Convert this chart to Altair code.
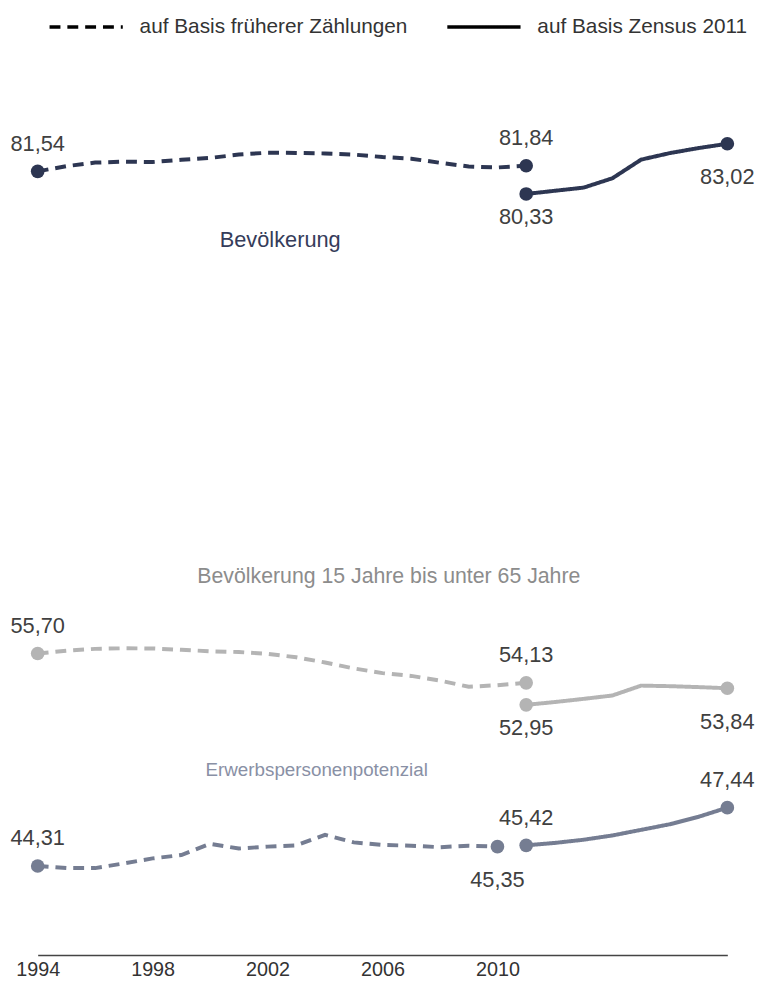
import altair as alt
import pandas as pd

FONT = "Liberation Sans"

series_names = ["Bevölkerung", "Bevölkerung 15 Jahre bis unter 65 Jahre", "Erwerbspersonenpotenzial"]
series_colors = ["#2d3652", "#b4b4b4", "#757d92"]
title_colors = ["#353c5a", "#8c8c8c", "#8990a5"]
basis_names = ["auf Basis früherer Zählungen", "auf Basis Zensus 2011"]

years_old = list(range(1994, 2012))
bev_old = [81.54, 81.82, 82.01, 82.06, 82.04, 82.16, 82.26, 82.44, 82.54, 82.53,
           82.50, 82.44, 82.31, 82.22, 82.00, 81.80, 81.75, 81.84]
wa_old = [55.70, 55.85, 55.95, 55.98, 55.97, 55.90, 55.82, 55.78, 55.68, 55.50,
          55.22, 54.90, 54.65, 54.50, 54.25, 53.92, 54.00, 54.13]
years_epp_old = list(range(1994, 2011))
epp_old = [44.31, 44.20, 44.20, 44.45, 44.72, 44.90, 45.50, 45.25, 45.35, 45.42,
           45.98, 45.58, 45.44, 45.40, 45.32, 45.40, 45.35]
years_new = list(range(2011, 2019))
bev_new = [80.33, 80.50, 80.67, 81.17, 82.17, 82.52, 82.79, 83.02]
wa_new = [52.95, 53.10, 53.27, 53.45, 53.98, 53.95, 53.90, 53.84]
epp_new = [45.42, 45.55, 45.72, 45.95, 46.25, 46.55, 46.95, 47.44]

tick_years = [1994, 1998, 2002, 2006, 2010]

# labelled points: (series index, basis index, year, placement)
label_points = [
    (0, 0, 1994, "above"), (0, 0, 2011, "above"), (0, 1, 2011, "below"), (0, 1, 2018, "below2"),
    (1, 0, 1994, "above"), (1, 0, 2011, "above"), (1, 1, 2011, "below"), (1, 1, 2018, "below2"),
    (2, 0, 1994, "above"), (2, 0, 2010, "below2"), (2, 1, 2011, "above"), (2, 1, 2018, "above"),
]

# series title annotations (year, value)
title_anchor_year = [2002.44, 2006.22, 2003.71]
title_anchor_value = [77.88, 59.79, 49.45]
title_sizes = [22, 21.5, 19]

rows = []
for si, (yrs_o, vals_o, yrs_n, vals_n) in enumerate([
    (years_old, bev_old, years_new, bev_new),
    (years_old, wa_old, years_new, wa_new),
    (years_epp_old, epp_old, years_new, epp_new),
]):
    for yv, v in zip(yrs_o, vals_o):
        rows.append({"year": yv, "value": v, "series": series_names[si], "basis": basis_names[0]})
    for yv, v in zip(yrs_n, vals_n):
        rows.append({"year": yv, "value": v, "series": series_names[si], "basis": basis_names[1]})
df = pd.DataFrame(rows)

lab_rows = []
for si, bi, yr, place in label_points:
    sub = df[(df.series == series_names[si]) & (df.basis == basis_names[bi]) & (df.year == yr)]
    v = float(sub.value.iloc[0])
    lab_rows.append({"year": yr, "value": v, "series": series_names[si],
                     "text": f"{v:.2f}".replace(".", ","), "place": place})
labels = pd.DataFrame(lab_rows)

titles = pd.DataFrame({"year": title_anchor_year, "value": title_anchor_value,
                       "text": series_names, "tcolor": title_colors, "fsize": title_sizes})

# plot area: top at page y 48, axis line at page y 960
x = alt.X("year:Q",
          scale=alt.Scale(domain=[1994, 2018], nice=False, zero=False),
          axis=alt.Axis(values=tick_years, format="d", title=None, grid=False, ticks=False,
                        labelFontSize=20, labelFont=FONT, labelColor="#333333", labelPadding=5,
                        labelFlush=False, labelOverlap=False,
                        domainColor="#444444", domainWidth=1.5))
y = alt.Y("value:Q", scale=alt.Scale(domain=[39.537, 87.899], nice=False, zero=False), axis=None)
color = alt.Color("series:N", scale=alt.Scale(domain=series_names, range=series_colors), legend=None)

lines = alt.Chart(df).mark_line(strokeWidth=4, strokeCap="butt").encode(
    x=x, y=y, color=color,
    strokeDash=alt.StrokeDash("basis:N",
                              scale=alt.Scale(domain=basis_names, range=[[11, 7], [1, 0]]),
                              legend=alt.Legend(title=None, orient="none", legendX=10, legendY=-65,
                                                direction="horizontal", symbolType="stroke",
                                                symbolSize=5476, symbolStrokeWidth=3.5,
                                                symbolStrokeColor="black",
                                                labelFontSize=21, labelFont=FONT, labelLimit=0,
                                                labelColor="#333333", labelOffset=15,
                                                columnPadding=33)),
    order="year:Q",
)

points = alt.Chart(labels).mark_circle(size=190, opacity=1).encode(x=x, y=y, color=color)

def label_layer(place, dy):
    return alt.Chart(labels).transform_filter(alt.datum.place == place).mark_text(
        dy=dy, fontSize=22, font=FONT, color="#404040", baseline="middle"
    ).encode(x=x, y=y, text="text:N")

txt_above = label_layer("above", -28)
txt_below = label_layer("below", 23)
txt_below2 = label_layer("below2", 34)

title_txt = alt.Chart(titles).mark_text(font=FONT, baseline="middle").encode(
    x=x, y=y, text="text:N", color=alt.Color("tcolor:N", scale=None),
    size=alt.Size("fsize:Q", scale=None))

chart = alt.layer(lines, points, txt_above, txt_below, txt_below2, title_txt).resolve_scale(
    color="independent"
).properties(
    width=697, height=912,
    padding={"left": 30, "top": 40, "right": 32, "bottom": 23},
    autosize=alt.AutoSizeParams(type="none"),
).configure_view(stroke=None)

chart.save("out.html", embed_options={"renderer": "svg", "actions": False})
